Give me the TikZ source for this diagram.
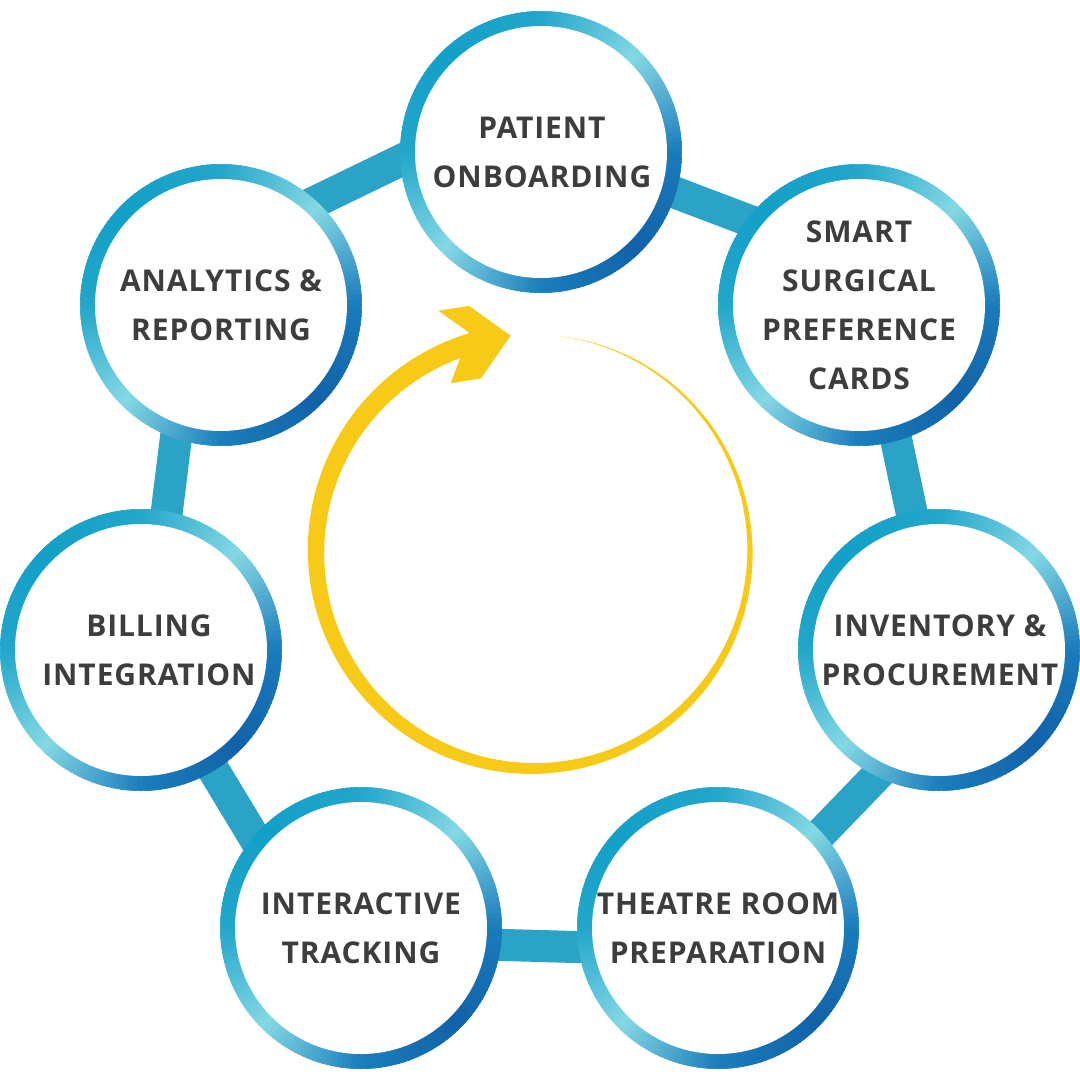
\documentclass[tikz,border=0pt]{standalone}
\usepackage{fontspec}
\setmainfont{Open Sans}[LetterSpace=3]
\definecolor{barc}{HTML}{2AA3C7}
\definecolor{txt}{HTML}{3D3D3F}
\definecolor{gold}{HTML}{F6CA17}
\definecolor{s0}{HTML}{1A7CBC}
\definecolor{s1}{HTML}{1262A8}
\definecolor{s2}{HTML}{1A7EBD}
\definecolor{s3}{HTML}{84D8E4}
\definecolor{s4}{HTML}{22A6CA}
\definecolor{s5}{HTML}{12A0C8}
\definecolor{s6}{HTML}{22A6CA}
\definecolor{s7}{HTML}{84D8E4}
\definecolor{s8}{HTML}{1A7CBC}
\tikzset{
  stage/.style={inner sep=0pt, align=center,
    text=txt, font=\fontsize{30}{49}\selectfont\bfseries},
  link/.style={draw=barc, line width=32pt},
  goldarrow/.style={fill=gold},
}
\begin{document}
\begin{tikzpicture}[x=1pt,y=-1pt]
\fill[white] (0,0) rectangle (1080,1080);
\useasboundingbox (0,0) rectangle (1080,1080);
% bar end points (inside the circles)
\coordinate (ap1) at (290,214);  \coordinate (ap2) at (420,151);
\coordinate (ps1) at (618,171);  \coordinate (ps2) at (758,224);
\coordinate (ab1) at (180,405);  \coordinate (ab2) at (164,534);
\coordinate (si1) at (889,406);  \coordinate (si2) at (916,533);
\coordinate (bt1) at (199,746);  \coordinate (bt2) at (266,857);
\coordinate (ir1) at (892,760);  \coordinate (ir2) at (809,846);
\coordinate (tr1) at (470,944);  \coordinate (tr2) at (610,948);
\foreach \u/\v in {ap1/ap2, ps1/ps2, ab1/ab2, si1/si2, bt1/bt2, ir1/ir2, tr1/tr2}
  \draw[link] (\u) -- (\v);
% gradient rings with white discs
\foreach \cx/\cy in {541/152,859/305,221/305,939/650,141/650,361/928,718/928}{
  \foreach \a in {0,2,...,358}{
    \pgfmathtruncatemacro\k{floor((\a+1)/45)}
    \pgfmathtruncatemacro\kk{\k+1}
    \pgfmathsetmacro\w{100-100*((\a+1)-45*\k)/45}
    \pgfmathsetmacro\b{\a+2.3}
    \fill[s\k!\w!s\kk, draw=s\k!\w!s\kk, line width=0.6pt]
      ([shift={(\a:125)}]\cx,\cy) -- ([shift={(\a:140.7)}]\cx,\cy) --
      ([shift={(\b:140.7)}]\cx,\cy) -- ([shift={(\b:125)}]\cx,\cy) -- cycle;
  }
  \fill[white] (\cx,\cy) circle[radius=126pt];
}
% stages
\node[stage] (pat) at (542,152) {PATIENT\\ONBOARDING};
\node[stage] (sma) at (859,305) {SMART\\SURGICAL\\PREFERENCE\\CARDS};
\node[stage] (ana) at (221,305) {ANALYTICS \&\\REPORTING};
\node[stage] (inv) at (940,650) {INVENTORY \&\\PROCUREMENT};
\node[stage] (bil) at (149,650) {BILLING\\INTEGRATION};
\node[stage] (int) at (361,928) {INTERACTIVE\\TRACKING};
\node[stage] (the) at (718,928) {THEATRE ROOM\\PREPARATION};
% yellow cycle arrow
\fill[goldarrow]
  plot[domain=276:614, samples=220, variable=\t]
    ({533+(217+10.5*(\t-276)/338)*cos(\t)}, {551.5+(217+10.5*(\t-276)/338)*sin(\t)})
  -- plot[domain=614:276, samples=220, variable=\t]
    ({533+(217-10.5*(\t-276)/338)*cos(\t)}, {551.5+(217-10.5*(\t-276)/338)*sin(\t)})
  -- cycle;
\fill[goldarrow] (510.7,335.7) -- (469,306) -- (438.3,310.7) -- (470,333.3)
  -- (461,355.7) -- (450.7,383.3) -- (481,378.3) -- cycle;
\end{tikzpicture}
\end{document}
